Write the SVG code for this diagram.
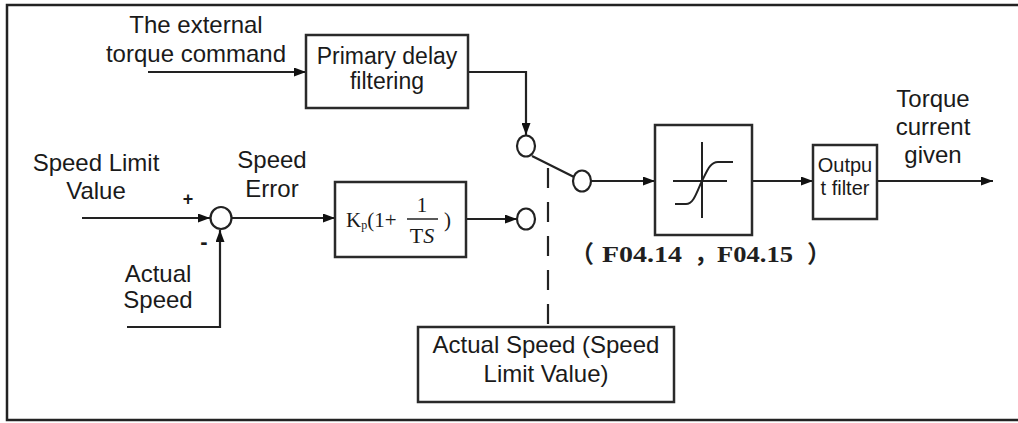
<svg xmlns="http://www.w3.org/2000/svg" width="1018" height="423" viewBox="0 0 1018 423">
<style>
.t{font-family:"Liberation Sans",Arial,sans-serif;font-size:24px;fill:#1a1a1a;text-anchor:middle}
.sm{font-size:20px}
.box{fill:#fff;stroke:#2a2a2a;stroke-width:2.5}
.ln{fill:none;stroke:#222;stroke-width:2.2}
.c{fill:#fff;stroke:#222;stroke-width:2.2}
.f{font-family:"Liberation Serif","Times New Roman",serif;font-size:21px;fill:#1a1a1a}
.fb{font-family:"Liberation Serif","Noto Sans CJK SC",serif;font-size:24px;font-weight:bold;fill:#1f1f1f}
</style>
<defs>
<marker id="ah" viewBox="0 0 12 9" refX="12" refY="4.5" markerWidth="12" markerHeight="9" markerUnits="userSpaceOnUse" orient="auto">
<path d="M0,0 L12,4.5 L0,9 z" fill="#111"/>
</marker>
</defs>
<rect x="0" y="0" width="1018" height="423" fill="#fff"/>
<rect x="7" y="5" width="1030" height="415" fill="none" stroke="#222" stroke-width="2.5"/>

<g id="connectors">
<path class="ln" d="M148,72 H306" marker-end="url(#ah)"/>
<path class="ln" d="M468,72 H526 V135" marker-end="url(#ah)"/>
<path class="ln" d="M82,218 H210" marker-end="url(#ah)"/>
<path class="ln" d="M127,327 H220 V230" marker-end="url(#ah)"/>
<path class="ln" d="M232,218 H335" marker-end="url(#ah)"/>
<path class="ln" d="M466,219 H517" marker-end="url(#ah)"/>
<path class="ln" d="M532,156 L574,177"/>
<path class="ln" d="M591,181 H655" marker-end="url(#ah)"/>
<path class="ln" d="M752,181 H813" marker-end="url(#ah)"/>
<path class="ln" d="M877,181 H993" marker-end="url(#ah)"/>
<path class="ln" d="M548,168 V327" stroke-dasharray="20 14"/>
</g>

<g id="ext-label">
<text class="t" x="196" y="33">The external</text>
<text class="t" x="196" y="62">torque command</text>
</g>

<g id="primary-filter">
<rect class="box" x="306" y="35" width="162" height="73"/>
<text class="t" x="387" y="64" style="font-size:23px">Primary delay</text>
<text class="t" x="387" y="89" style="font-size:23px">filtering</text>
</g>

<g id="speed-limit-label">
<text class="t" x="96" y="171">Speed Limit</text>
<text class="t" x="96" y="199">Value</text>
</g>

<g id="speed-error-label">
<text class="t" x="272" y="168">Speed</text>
<text class="t" x="272" y="197">Error</text>
</g>

<g id="actual-speed-label">
<text class="t" x="158" y="282">Actual</text>
<text class="t" x="158" y="308">Speed</text>
</g>

<g id="sum">
<ellipse class="c" cx="221" cy="218" rx="10.5" ry="11"/>
<text class="t" x="188" y="205" style="font-size:18px;font-weight:bold">+</text>
<text class="t" x="204" y="249" style="font-size:22px;font-weight:bold">-</text>
</g>

<g id="pi">
<rect class="box" x="335" y="182" width="131" height="75"/>
<text class="f" x="346" y="227">K<tspan font-size="12" dy="2">p</tspan><tspan dy="-2">(1+</tspan></text>
<text class="f" x="422" y="212" text-anchor="middle">1</text>
<line x1="407" y1="219" x2="438" y2="219" stroke="#222" stroke-width="1.5"/>
<text class="f" x="422" y="243" text-anchor="middle" style="font-size:22px">T<tspan font-style="italic">S</tspan></text>
<text class="f" x="444" y="227">)</text>
</g>

<g id="switch">
<ellipse class="c" cx="526" cy="146" rx="9" ry="10.5"/>
<ellipse class="c" cx="526" cy="219" rx="9" ry="10.5"/>
<ellipse class="c" cx="582" cy="181" rx="9" ry="10.5"/>
</g>

<g id="limiter">
<rect class="box" x="655" y="125" width="97" height="110"/>
<line x1="702" y1="142" x2="702" y2="218" stroke="#222" stroke-width="2"/>
<line x1="673" y1="181" x2="727" y2="181" stroke="#222" stroke-width="2"/>
<path d="M675,204 L686,204 C694,204 697,191 702,181 C707,171 710,162 718,162 L733,162" fill="none" stroke="#222" stroke-width="2"/>
</g>

<g id="limit-params">
<text class="fb" x="570" y="262">（</text>
<text class="fb" x="602" y="262" textLength="80" lengthAdjust="spacingAndGlyphs">F04.14</text>
<text class="fb" x="694" y="262">，</text>
<text class="fb" x="717" y="262" textLength="76" lengthAdjust="spacingAndGlyphs">F04.15</text>
<text class="fb" x="807" y="262">）</text>
</g>

<g id="output-filter">
<rect class="box" x="813" y="145" width="64" height="74"/>
<text class="t sm" x="845" y="172">Outpu</text>
<text class="t sm" x="845" y="195">t filter</text>
</g>

<g id="output-label">
<text class="t" x="933" y="107">Torque</text>
<text class="t" x="933" y="135">current</text>
<text class="t" x="933" y="163">given</text>
</g>

<g id="speed-source">
<rect class="box" x="418" y="327" width="256" height="75"/>
<text class="t" x="546" y="353">Actual Speed (Speed</text>
<text class="t" x="546" y="382">Limit Value)</text>
</g>
</svg>
